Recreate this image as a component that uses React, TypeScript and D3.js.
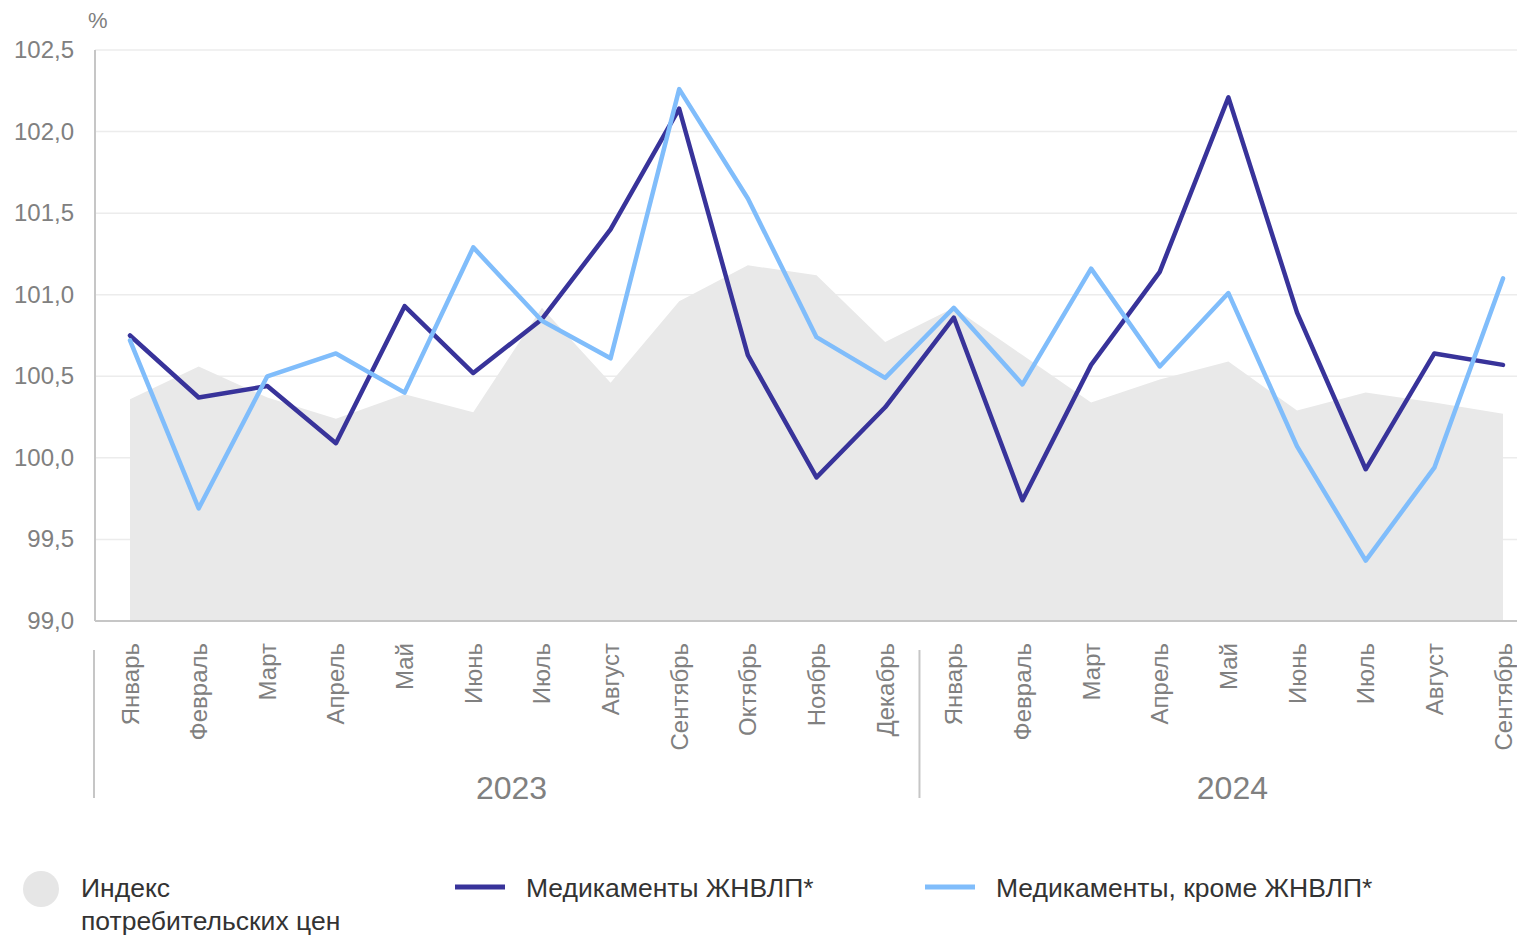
import { useEffect, useRef } from 'react';
import * as d3 from 'd3';

const months = [
  'Январь', 'Февраль', 'Март', 'Апрель', 'Май', 'Июнь', 'Июль', 'Август',
  'Сентябрь', 'Октябрь', 'Ноябрь', 'Декабрь',
  'Январь', 'Февраль', 'Март', 'Апрель', 'Май', 'Июнь', 'Июль', 'Август', 'Сентябрь',
];
const yearLabels = ['2023', '2024'];
const yearMonthCounts = [12, 9];

// Индекс потребительских цен
const cpi = [
  100.36, 100.56, 100.37, 100.24, 100.39, 100.28, 100.92, 100.46, 100.96, 101.18, 101.12, 100.71,
  100.92, 100.63, 100.34, 100.48, 100.59, 100.29, 100.4, 100.34, 100.27,
];
// Медикаменты ЖНВЛП*
const vital = [
  100.75, 100.37, 100.44, 100.09, 100.93, 100.52, 100.85, 101.4, 102.14, 100.63, 99.88, 100.31,
  100.86, 99.74, 100.57, 101.14, 102.21, 100.89, 99.93, 100.64, 100.57,
];
// Медикаменты, кроме ЖНВЛП*
const other = [
  100.72, 99.69, 100.5, 100.64, 100.4, 101.29, 100.84, 100.61, 102.26, 101.59, 100.74, 100.49,
  100.92, 100.45, 101.16, 100.56, 101.01, 100.07, 99.37, 99.94, 101.1,
];
const yTicks = [99, 99.5, 100, 100.5, 101, 101.5, 102, 102.5];

const legendItems = [
  { key: 'cpi', lines: ['Индекс', 'потребительских цен'] },
  { key: 'vital', lines: ['Медикаменты ЖНВЛП*'] },
  { key: 'other', lines: ['Медикаменты, кроме ЖНВЛП*'] },
];

const W = 1517;
const H = 935;
const FONT = '"Liberation Sans", Arial, sans-serif';
const DARK = '#38339a';
const LIGHT = '#80bdfb';
const AREA = '#e9e9e9';
const AXIS = '#c6c6c6';
const LABEL = '#808080';

export default function App() {
  const svgRef = useRef<SVGSVGElement>(null);

  useEffect(() => {
    if (!svgRef.current) return;
    const svg = d3.select(svgRef.current);
    svg.selectAll('*').remove();

    const left = 95;
    const right = 1517;
    const top = 50;
    const bottom = 621;

    const idx = months.map((_, i) => i);
    const x = d3.scalePoint<number>().domain(idx).range([130, 1503]);
    const y = d3.scaleLinear().domain([99, 102.5]).range([bottom, top]);
    const step = x.step();

    // grid
    svg
      .append('g')
      .selectAll('line')
      .data(yTicks.slice(1))
      .join('line')
      .attr('x1', left)
      .attr('x2', right)
      .attr('y1', (d) => y(d))
      .attr('y2', (d) => y(d))
      .attr('stroke', '#ececec')
      .attr('stroke-width', 1.5);

    // CPI area
    const area = d3
      .area<number>()
      .x((_, i) => x(i) as number)
      .y0(y(99))
      .y1((d) => y(d));
    svg.append('path').datum(cpi).attr('fill', AREA).attr('d', area);

    // axes lines
    svg
      .append('line')
      .attr('x1', left)
      .attr('x2', left)
      .attr('y1', top)
      .attr('y2', bottom)
      .attr('stroke', AXIS)
      .attr('stroke-width', 2);
    svg
      .append('line')
      .attr('x1', left)
      .attr('x2', right)
      .attr('y1', bottom)
      .attr('y2', bottom)
      .attr('stroke', AXIS)
      .attr('stroke-width', 2);

    // y tick labels
    svg
      .append('g')
      .selectAll('text')
      .data(yTicks)
      .join('text')
      .attr('x', 74)
      .attr('y', (d) => y(d) + 8)
      .attr('text-anchor', 'end')
      .attr('font-family', FONT)
      .attr('font-size', 24)
      .attr('fill', LABEL)
      .text((d) => d3.format('.1f')(d).replace('.', ','));

    svg
      .append('text')
      .attr('x', 88)
      .attr('y', 28)
      .attr('font-family', FONT)
      .attr('font-size', 22)
      .attr('fill', LABEL)
      .text('%');

    // lines
    const line = d3
      .line<number>()
      .x((_, i) => x(i) as number)
      .y((d) => y(d));
    [
      { data: vital, color: DARK },
      { data: other, color: LIGHT },
    ].forEach((s) => {
      svg
        .append('path')
        .datum(s.data)
        .attr('fill', 'none')
        .attr('stroke', s.color)
        .attr('stroke-width', 4.5)
        .attr('stroke-linejoin', 'round')
        .attr('stroke-linecap', 'round')
        .attr('d', line);
    });

    // month labels
    svg
      .append('g')
      .selectAll('text')
      .data(months)
      .join('text')
      .attr('transform', (_, i) => `translate(${(x(i) as number) + 8.5},643) rotate(-90)`)
      .attr('text-anchor', 'end')
      .attr('font-family', FONT)
      .attr('font-size', 24)
      .attr('fill', LABEL)
      .text((d) => d);

    // year groups
    let start = 0;
    yearLabels.forEach((label, g) => {
      const end = start + yearMonthCounts[g] - 1;
      const sepX = g === 0 ? left - 1 : (x(start) as number) - step / 2;
      svg
        .append('line')
        .attr('x1', sepX)
        .attr('x2', sepX)
        .attr('y1', 650)
        .attr('y2', 798)
        .attr('stroke', AXIS)
        .attr('stroke-width', 2);
      const cx = ((x(start) as number) + (x(end) as number)) / 2 + 4;
      svg
        .append('text')
        .attr('x', cx)
        .attr('y', 799)
        .attr('text-anchor', 'middle')
        .attr('font-family', FONT)
        .attr('font-size', 32)
        .attr('fill', LABEL)
        .text(label);
      start = end + 1;
    });

    // legend
    const legendX = [22, 455, 925];
    legendItems.forEach((item, i) => {
      const g = svg.append('g').attr('transform', `translate(${legendX[i]},0)`);
      if (item.key === 'cpi') {
        g.append('circle').attr('cx', 19).attr('cy', 889).attr('r', 18).attr('fill', '#e6e6e6');
      } else {
        g.append('line')
          .attr('x1', 0)
          .attr('x2', 50)
          .attr('y1', 887)
          .attr('y2', 887)
          .attr('stroke', item.key === 'vital' ? DARK : LIGHT)
          .attr('stroke-width', 5);
      }
      const tx = item.key === 'cpi' ? 59 : 71;
      item.lines.forEach((t, j) => {
        g.append('text')
          .attr('x', tx)
          .attr('y', 897 + j * 33)
          .attr('font-family', FONT)
          .attr('font-size', 26.5)
          .attr('fill', '#333')
          .text(t);
      });
    });
  }, []);

  return (
    <svg
      ref={svgRef}
      width={W}
      height={H}
      style={{ position: 'absolute', left: 0, top: 0, background: '#fff' }}
    />
  );
}
